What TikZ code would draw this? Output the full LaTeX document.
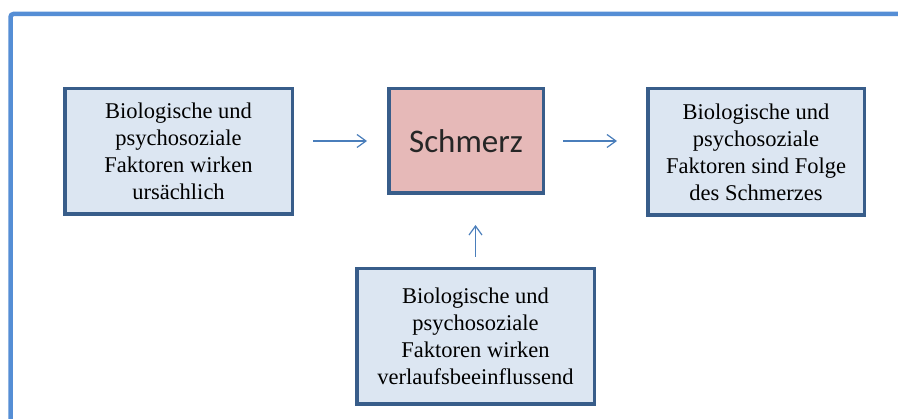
\documentclass[tikz,border=0pt]{standalone}
\usepackage{fontspec}
\setmainfont{Liberation Serif}
\newfontfamily\calib{Carlito}
\usetikzlibrary{arrows.meta}
\definecolor{framec}{HTML}{558ED5}
\definecolor{bordc}{HTML}{385D8A}
\definecolor{boxfill}{HTML}{DCE6F2}
\definecolor{painfill}{HTML}{E6B9B8}
\definecolor{arrc}{HTML}{4A7EBB}
\tikzset{
  x=1pt,y=1pt,
  infobox/.style={draw=bordc, line width=3.5pt, fill=boxfill, align=center,
    font=\fontsize{22.5}{27}\selectfont, text=black, inner sep=0pt},
  painbox/.style={draw=bordc, line width=3.5pt, fill=painfill, align=center,
    font=\calib\fontsize{33}{38}\selectfont, text=black!85, inner sep=0pt},
  arr/.style={draw=arrc, line width=1.2pt, -{Straight Barb[length=9pt,width=13pt,line width=1.2pt]}}
}
\begin{document}
\begin{tikzpicture}
\clip (0,0) rectangle (898,-419);
\fill[white] (0,0) rectangle (898,-419);
\draw[framec, line width=4.5pt, rounded corners=3pt] (10.5,-440) -- (10.5,-14) -- (920,-14);
\node[infobox, minimum width=227.5pt, minimum height=125.5pt] (b1) at (178.5,-151.5)
  {Biologische und\\psychosoziale\\Faktoren wirken\\ursächlich};
\node[painbox, minimum width=154.5pt, minimum height=104.5pt] (s) at (466,-141) {Schmerz};
\node[infobox, minimum width=216.5pt, minimum height=126.5pt] (b3) at (756,-152)
  {Biologische und\\psychosoziale\\Faktoren sind Folge\\des Schmerzes};
\node[infobox, minimum width=237.5pt, minimum height=135.5pt] (b4) at (475.5,-336.5)
  {Biologische und\\psychosoziale\\Faktoren wirken\\verlaufsbeeinflussend};
\draw[arr, shorten <=19pt, shorten >=20pt] (b1.east |- s.west) -- (s.west);
\draw[arr, shorten <=18pt, shorten >=29pt] (s.east) -- (b3.west |- s.east);
\draw[arr, shorten <=10pt, shorten >=30pt] (b4.north) -- (b4.north |- s.south);
\end{tikzpicture}
\end{document}
